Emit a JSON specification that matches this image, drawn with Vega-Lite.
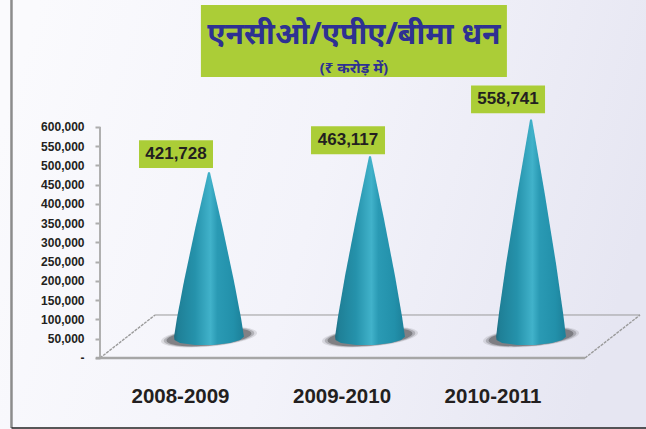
{"$schema":"https://vega.github.io/schema/vega-lite/v6.json","width":646,"height":429,"autosize":{"type":"none"},"padding":0,"background":"#f6f6fb",
"view":{"stroke":null,"fill":{"gradient":"linear","x1":0,"y1":0.3,"x2":1,"y2":0.5,"stops":[{"offset":0,"color":"#fafafd"},{"offset":0.5,"color":"#f3f3fa"},{"offset":1,"color":"#e6e6f2"}]}},
"config":{"text":{"font":"Liberation Sans"},"axis":{"labelFont":"Liberation Sans"}},
"datasets":{
"cones":[
{"year":"2008-2009","v":421728,"l":0.994,"r":1.006},{"year":"2008-2009","v":278340,"l":0.916,"r":1.084},{"year":"2008-2009","v":139170,"l":0.845,"r":1.155},{"year":"2008-2009","v":42173,"l":0.801,"r":1.199},{"year":"2008-2009","v":-6000,"l":0.783,"r":1.217},{"year":"2008-2009","v":-14000,"l":0.786,"r":1.193},{"year":"2008-2009","v":-22000,"l":0.82,"r":1.13},{"year":"2008-2009","v":-27000,"l":0.913,"r":1.025},
{"year":"2009-2010","v":463117,"l":1.994,"r":2.006},{"year":"2009-2010","v":305657,"l":1.916,"r":2.084},{"year":"2009-2010","v":152829,"l":1.845,"r":2.155},{"year":"2009-2010","v":46312,"l":1.801,"r":2.199},{"year":"2009-2010","v":-6000,"l":1.783,"r":2.217},{"year":"2009-2010","v":-14000,"l":1.786,"r":2.193},{"year":"2009-2010","v":-22000,"l":1.82,"r":2.13},{"year":"2009-2010","v":-27000,"l":1.913,"r":2.025},
{"year":"2010-2011","v":558741,"l":2.994,"r":3.006},{"year":"2010-2011","v":368769,"l":2.916,"r":3.084},{"year":"2010-2011","v":184385,"l":2.845,"r":3.155},{"year":"2010-2011","v":55874,"l":2.801,"r":3.199},{"year":"2010-2011","v":-6000,"l":2.783,"r":3.217},{"year":"2010-2011","v":-14000,"l":2.786,"r":3.193},{"year":"2010-2011","v":-22000,"l":2.82,"r":3.13},{"year":"2010-2011","v":-27000,"l":2.913,"r":3.025}
],
"funds":[{"year":"2008-2009","pos":1,"v":421728},{"year":"2009-2010","pos":2,"v":463117},{"year":"2010-2011","pos":3,"v":558741}],
"frame":[
{"seg":"border","pos":-0.2267,"v":929870},{"seg":"border","pos":-0.2267,"v":-181800},
{"seg":"bottom","pos":-0.2267,"v":-181800},{"seg":"bottom","pos":3.714,"v":-181800},
{"seg":"axis","pos":0.323,"v":600000},{"seg":"axis","pos":0.323,"v":0},
{"seg":"front","pos":0.297,"v":0},{"seg":"front","pos":3.335,"v":0},
{"seg":"back","pos":0.665,"v":111700},{"seg":"back","pos":3.677,"v":111700},
{"seg":"diagL","pos":0.323,"v":0},{"seg":"diagL","pos":0.665,"v":111700},
{"seg":"diagR","pos":3.335,"v":0},{"seg":"diagR","pos":3.677,"v":111700}
],
"ticks":[{"pos":0.323,"v":0},{"pos":0.323,"v":600000}]
},
"encoding":{"x":{"field":"pos","type":"quantitative","scale":{"domain":[-0.298,3.714],"nice":false,"zero":false},"axis":null},"y":{"field":"v","type":"quantitative","scale":{"domain":[-184416,929870],"nice":false,"zero":false},"axis":null}},
"resolve":{"scale":{"y":"independent"}},
"layer":[
{"data":{"name":"frame"},"transform":[{"filter":"datum.seg=='border'"}],"mark":{"type":"line","stroke":"#8c8c8c","strokeWidth":2.5}},
{"data":{"name":"frame"},"transform":[{"filter":"datum.seg=='bottom'"}],"mark":{"type":"line","stroke":"#222222","strokeWidth":1.5}},
{"data":{"name":"ticks"},"mark":{"type":"point","opacity":0},"encoding":{"y":{"field":"v","type":"quantitative","scale":{"domain":[-184416,929870],"nice":false,"zero":false},"axis":{"orient":"left","offset":-100,"domain":false,"grid":false,"title":null,"values":[0,50000,100000,150000,200000,250000,300000,350000,400000,450000,500000,550000,600000],"labelExpr":"datum.value==0?'-':format(datum.value,',')","labelFontSize":12,"labelFontWeight":"bold","labelColor":"#231f20","labelPadding":11,"tickSize":5,"tickColor":"#adadad","tickWidth":2}}}},
{"data":{"name":"frame"},"transform":[{"filter":"datum.seg=='back'"}],"mark":{"type":"line","stroke":"#9a9a9a","strokeWidth":1}},
{"data":{"name":"frame"},"transform":[{"filter":"datum.seg=='diagL'||datum.seg=='diagR'"}],"mark":{"type":"line","stroke":"#9a9a9a","strokeWidth":1.4,"strokeDash":[3,1]},"encoding":{"detail":{"field":"seg"}}},
{"data":{"name":"frame"},"transform":[{"filter":"datum.seg=='axis'"}],"mark":{"type":"line","stroke":"#b0b0b0","strokeWidth":2}},
{"data":{"name":"frame"},"transform":[{"filter":"datum.seg=='front'"}],"mark":{"type":"line","stroke":"#a6a6a6","strokeWidth":2.5}},

{"data":{"name":"funds"},"mark":{"type":"point","filled":true,"fill":"#77777c","opacity":0.2,"strokeWidth":0,"shape":"M-1,0.087A1,0.2,-5,1,0,1,-0.087A1,0.2,-5,1,0,-1,0.087Z","size":9216},"encoding":{"y":{"datum":54545,"scale":{"domain":[-184416,929870],"nice":false,"zero":false}}}},
{"data":{"name":"funds"},"mark":{"type":"point","filled":true,"fill":"#555558","opacity":0.3,"strokeWidth":0,"shape":"M-1,0.087A1,0.2,-5,1,0,1,-0.087A1,0.2,-5,1,0,-1,0.087Z","size":8200},"encoding":{"y":{"datum":54545,"scale":{"domain":[-184416,929870],"nice":false,"zero":false}}}},
{"data":{"name":"funds"},"mark":{"type":"point","filled":true,"fill":"#444447","opacity":0.45,"strokeWidth":0,"shape":"M-1,0.087A1,0.2,-5,1,0,1,-0.087A1,0.2,-5,1,0,-1,0.087Z","size":7200},"encoding":{"y":{"datum":54545,"scale":{"domain":[-184416,929870],"nice":false,"zero":false}}}},

{"data":{"name":"cones"},"transform":[{"filter":"datum.year=='2008-2009'"}],"mark":{"type":"area","orient":"horizontal","color":{"gradient":"linear","x1":0,"y1":0,"x2":1,"y2":0,"stops":[{"offset":0,"color":"#1f6b80"},{"offset":0.06,"color":"#1f8097"},{"offset":0.3,"color":"#2592ab"},{"offset":0.52,"color":"#41b2ca"},{"offset":0.62,"color":"#2a9ab4"},{"offset":0.85,"color":"#2290aa"},{"offset":1,"color":"#1c7f98"}]}},"encoding":{"x":{"field":"l","type":"quantitative","scale":{"domain":[-0.298,3.714],"nice":false,"zero":false},"axis":null},"x2":{"field":"r"},"y":{"field":"v","type":"quantitative","sort":null,"scale":{"domain":[-245456,868830],"nice":false,"zero":false},"axis":null}}},
{"data":{"name":"cones"},"transform":[{"filter":"datum.year=='2009-2010'"}],"mark":{"type":"area","orient":"horizontal","color":{"gradient":"linear","x1":0,"y1":0,"x2":1,"y2":0,"stops":[{"offset":0,"color":"#1f6b80"},{"offset":0.06,"color":"#1f8097"},{"offset":0.3,"color":"#2592ab"},{"offset":0.52,"color":"#41b2ca"},{"offset":0.62,"color":"#2a9ab4"},{"offset":0.85,"color":"#2290aa"},{"offset":1,"color":"#1c7f98"}]}},"encoding":{"x":{"field":"l","type":"quantitative","scale":{"domain":[-0.298,3.714],"nice":false,"zero":false},"axis":null},"x2":{"field":"r"},"y":{"field":"v","type":"quantitative","sort":null,"scale":{"domain":[-245456,868830],"nice":false,"zero":false},"axis":null}}},
{"data":{"name":"cones"},"transform":[{"filter":"datum.year=='2010-2011'"}],"mark":{"type":"area","orient":"horizontal","color":{"gradient":"linear","x1":0,"y1":0,"x2":1,"y2":0,"stops":[{"offset":0,"color":"#1f6b80"},{"offset":0.06,"color":"#1f8097"},{"offset":0.3,"color":"#2592ab"},{"offset":0.52,"color":"#41b2ca"},{"offset":0.62,"color":"#2a9ab4"},{"offset":0.85,"color":"#2290aa"},{"offset":1,"color":"#1c7f98"}]}},"encoding":{"x":{"field":"l","type":"quantitative","scale":{"domain":[-0.298,3.714],"nice":false,"zero":false},"axis":null},"x2":{"field":"r"},"y":{"field":"v","type":"quantitative","sort":null,"scale":{"domain":[-245456,868830],"nice":false,"zero":false},"axis":null}}},

{"data":{"name":"funds"},"transform":[{"filter":"datum.year=='2008-2009'"}],"mark":{"type":"point","filled":true,"fill":"#abcd37","opacity":1,"strokeWidth":0,"shape":"M-1,-0.378H1V0.378H-1Z","size":5476,"xOffset":-33,"yOffset":-18},"encoding":{"y":{"field":"v","type":"quantitative","scale":{"domain":[-245456,868830],"nice":false,"zero":false},"axis":null}}},
{"data":{"name":"funds"},"transform":[{"filter":"datum.year=='2008-2009'"}],"mark":{"type":"text","fontSize":17,"fontWeight":"bold","color":"#231f20","baseline":"middle","align":"center","xOffset":-33,"yOffset":-18},"encoding":{"text":{"field":"v","type":"quantitative","format":","},"y":{"field":"v","type":"quantitative","scale":{"domain":[-245456,868830],"nice":false,"zero":false},"axis":null}}},
{"data":{"name":"funds"},"transform":[{"filter":"datum.year=='2009-2010'"}],"mark":{"type":"point","filled":true,"fill":"#abcd37","opacity":1,"strokeWidth":0,"shape":"M-1,-0.378H1V0.378H-1Z","size":5476,"xOffset":-22,"yOffset":-16},"encoding":{"y":{"field":"v","type":"quantitative","scale":{"domain":[-245456,868830],"nice":false,"zero":false},"axis":null}}},
{"data":{"name":"funds"},"transform":[{"filter":"datum.year=='2009-2010'"}],"mark":{"type":"text","fontSize":17,"fontWeight":"bold","color":"#231f20","baseline":"middle","align":"center","xOffset":-22,"yOffset":-16},"encoding":{"text":{"field":"v","type":"quantitative","format":","},"y":{"field":"v","type":"quantitative","scale":{"domain":[-245456,868830],"nice":false,"zero":false},"axis":null}}},
{"data":{"name":"funds"},"transform":[{"filter":"datum.year=='2010-2011'"}],"mark":{"type":"point","filled":true,"fill":"#abcd37","opacity":1,"strokeWidth":0,"shape":"M-1,-0.378H1V0.378H-1Z","size":5476,"xOffset":-23,"yOffset":-20},"encoding":{"y":{"field":"v","type":"quantitative","scale":{"domain":[-245456,868830],"nice":false,"zero":false},"axis":null}}},
{"data":{"name":"funds"},"transform":[{"filter":"datum.year=='2010-2011'"}],"mark":{"type":"text","fontSize":17,"fontWeight":"bold","color":"#231f20","baseline":"middle","align":"center","xOffset":-23,"yOffset":-20},"encoding":{"text":{"field":"v","type":"quantitative","format":","},"y":{"field":"v","type":"quantitative","scale":{"domain":[-245456,868830],"nice":false,"zero":false},"axis":null}}},

{"data":{"name":"funds"},"transform":[{"filter":"datum.year=='2008-2009'"}],"mark":{"type":"text","fontSize":20.5,"fontWeight":"bold","color":"#231f20","baseline":"middle","align":"center","xOffset":-28.5},"encoding":{"text":{"field":"year"},"y":{"datum":-101300,"scale":{"domain":[-184416,929870],"nice":false,"zero":false}}}},
{"data":{"name":"funds"},"transform":[{"filter":"datum.year=='2009-2010'"}],"mark":{"type":"text","fontSize":20.5,"fontWeight":"bold","color":"#231f20","baseline":"middle","align":"center","xOffset":-28},"encoding":{"text":{"field":"year"},"y":{"datum":-101300,"scale":{"domain":[-184416,929870],"nice":false,"zero":false}}}},
{"data":{"name":"funds"},"transform":[{"filter":"datum.year=='2010-2011'"}],"mark":{"type":"text","fontSize":20.5,"fontWeight":"bold","color":"#231f20","baseline":"middle","align":"center","xOffset":-38},"encoding":{"text":{"field":"year"},"y":{"datum":-101300,"scale":{"domain":[-184416,929870],"nice":false,"zero":false}}}},

{"data":{"values":[{"pos":1.9,"v":823376}]},"mark":{"type":"point","filled":true,"fill":"#abcd37","opacity":1,"strokeWidth":0,"shape":"M-1,-0.235H1V0.235H-1Z","size":93636}},
{"data":{"values":[{"pos":1.9,"v":839000,"title":"एनसीओ/एपीए/बीमा धन"}]},"mark":{"type":"text","font":"Noto Sans","fontSize":30,"fontWeight":"bold","color":"#2e3192","baseline":"middle","align":"center"},"encoding":{"text":{"field":"title"}}},
{"data":{"values":[{"pos":1.9,"v":753000,"sub":"(₹ करोड़ में)"}]},"mark":{"type":"text","font":"Noto Sans","fontSize":15,"fontWeight":"bold","color":"#2e3192","baseline":"middle","align":"center"},"encoding":{"text":{"field":"sub"}}}
]}
